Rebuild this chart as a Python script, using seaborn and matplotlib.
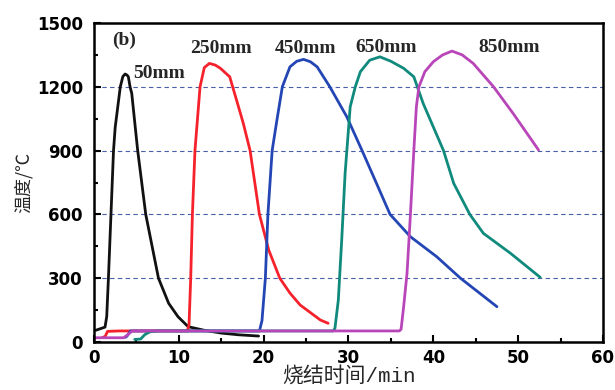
import matplotlib
matplotlib.use("Agg")
import matplotlib.pyplot as plt
from matplotlib.ticker import MultipleLocator
import seaborn as sns
import pandas as pd

# ---- data ----
t50 = [0.2, 1.3, 1.5, 1.7, 2.0, 2.3, 2.5, 3.1, 3.4, 3.66, 3.9, 4.05, 4.25, 4.45, 5.15, 6.1, 7.6, 8.8, 9.9, 11.1, 13.0, 15.0, 17.0, 19.4]
T50 = [55, 70, 120, 300, 600, 900, 1010, 1200, 1248, 1260, 1255, 1247, 1200, 1169, 900, 600, 300, 182, 119, 72, 55, 42, 34, 28]

t250 = [1.0, 1.3, 1.6, 3.0, 11.0, 11.2, 11.4, 11.6, 11.9, 12.5, 13.0, 13.6, 14.3, 14.9, 16.0, 16.8, 17.6, 18.4, 19.5, 20.6, 21.9, 23.1, 24.3, 26.7, 27.6]
T250 = [22, 25, 50, 52, 52, 80, 300, 600, 900, 1200, 1290, 1310, 1302, 1287, 1247, 1138, 1028, 900, 600, 432, 300, 230, 174, 103, 88]

t450 = [3.7, 3.9, 4.3, 6.0, 19.5, 19.8, 20.2, 20.5, 21.0, 21.5, 22.2, 23.1, 23.9, 24.7, 25.5, 26.3, 27.8, 29.8, 31.6, 33.3, 34.9, 37.3, 40.4, 43.2, 47.5]
T450 = [22, 28, 52, 52, 52, 100, 300, 600, 900, 1028, 1200, 1294, 1320, 1329, 1318, 1294, 1200, 1059, 900, 746, 600, 495, 401, 300, 166]

t650 = [4.8, 5.5, 6.0, 6.6, 7.5, 28.2, 28.4, 28.8, 29.2, 29.6, 30.2, 30.8, 31.4, 32.5, 33.7, 35.0, 36.5, 37.7, 38.8, 41.2, 42.4, 44.3, 45.9, 49.1, 52.6]
T650 = [12, 14, 35, 48, 52, 52, 64, 197, 480, 793, 1106, 1200, 1271, 1325, 1341, 1320, 1287, 1247, 1122, 900, 746, 600, 511, 417, 304]

t850 = [0.0, 3.5, 4.0, 4.5, 36.0, 36.2, 36.5, 36.9, 37.3, 37.7, 38.0, 38.3, 39.0, 40.0, 41.1, 42.2, 43.4, 44.7, 47.1, 49.4, 52.4]
T850 = [20, 20, 35, 52, 52, 60, 166, 323, 600, 900, 1106, 1200, 1271, 1318, 1350, 1368, 1350, 1310, 1200, 1075, 903]

series = ["50mm", "250mm", "450mm", "650mm", "850mm"]
label_x = [4.6, 11.3, 21.3, 30.8, 45.3]
label_y = [1262, 1382, 1382, 1385, 1385]
colors = ["#111111", "#f5222c", "#2446b4", "#0f8a7c", "#b946b8"]

frames = []
for name, t, T in zip(series, [t50, t250, t450, t650, t850], [T50, T250, T450, T650, T850]):
    frames.append(pd.DataFrame({"time": t, "temp": T, "series": name}))
df = pd.concat(frames, ignore_index=True)

sns.set_style("ticks")
plt.rcParams["font.family"] = ["DejaVu Sans"]

fig = plt.figure(figsize=(6.15, 3.9), dpi=100)
ax = fig.add_axes([94 / 615, 1 - 342 / 390, (603 - 94) / 615, (342 - 23) / 390])

ax.yaxis.grid(True, linestyle=(0, (4, 3)), color="#4a5fa8", lw=0.8)
ax.set_axisbelow(True)

sns.lineplot(data=df, x="time", y="temp", hue="series", palette=dict(zip(series, colors)),
             sort=False, estimator=None, legend=False, lw=2.0, ax=ax)
for ln in ax.lines:
    ln.set_solid_joinstyle("round")

ax.set_xlim(0, 60)
ax.set_ylim(0, 1500)
ax.xaxis.set_major_locator(MultipleLocator(10))
ax.xaxis.set_minor_locator(MultipleLocator(5))
ax.yaxis.set_major_locator(MultipleLocator(300))
ax.yaxis.set_minor_locator(MultipleLocator(150))
ax.tick_params(which="both", direction="in", width=1.5, colors="black")
ax.tick_params(which="major", length=5)
ax.tick_params(which="minor", length=3)
ax.tick_params(axis="y", pad=8)
ax.tick_params(axis="x", pad=5)
for lab in ax.get_xticklabels() + ax.get_yticklabels():
    lab.set_fontweight("bold")
    lab.set_fontsize(12)
    lab.set_family("DejaVu Sans")
for sp in ax.spines.values():
    sp.set_linewidth(1.8)
    sp.set_color("black")

ax.set_xlabel("烧结时间/min", family=["Liberation Mono", "Noto Sans CJK SC"], fontsize=15,
              labelpad=-1)
ax.set_ylabel("温度/℃", family=["Noto Sans CJK SC", "DejaVu Sans"], fontsize=13, labelpad=3)

ax.text(2.1, 1420, "(b)", family="Liberation Serif", fontweight="bold", fontsize=14,
        va="center", ha="left")
for name, x, y in zip(series, label_x, label_y):
    ax.text(x, y, name, family="Liberation Serif", fontweight="bold", fontsize=14,
            va="center", ha="left")

fig.savefig("out.png", dpi=100)
